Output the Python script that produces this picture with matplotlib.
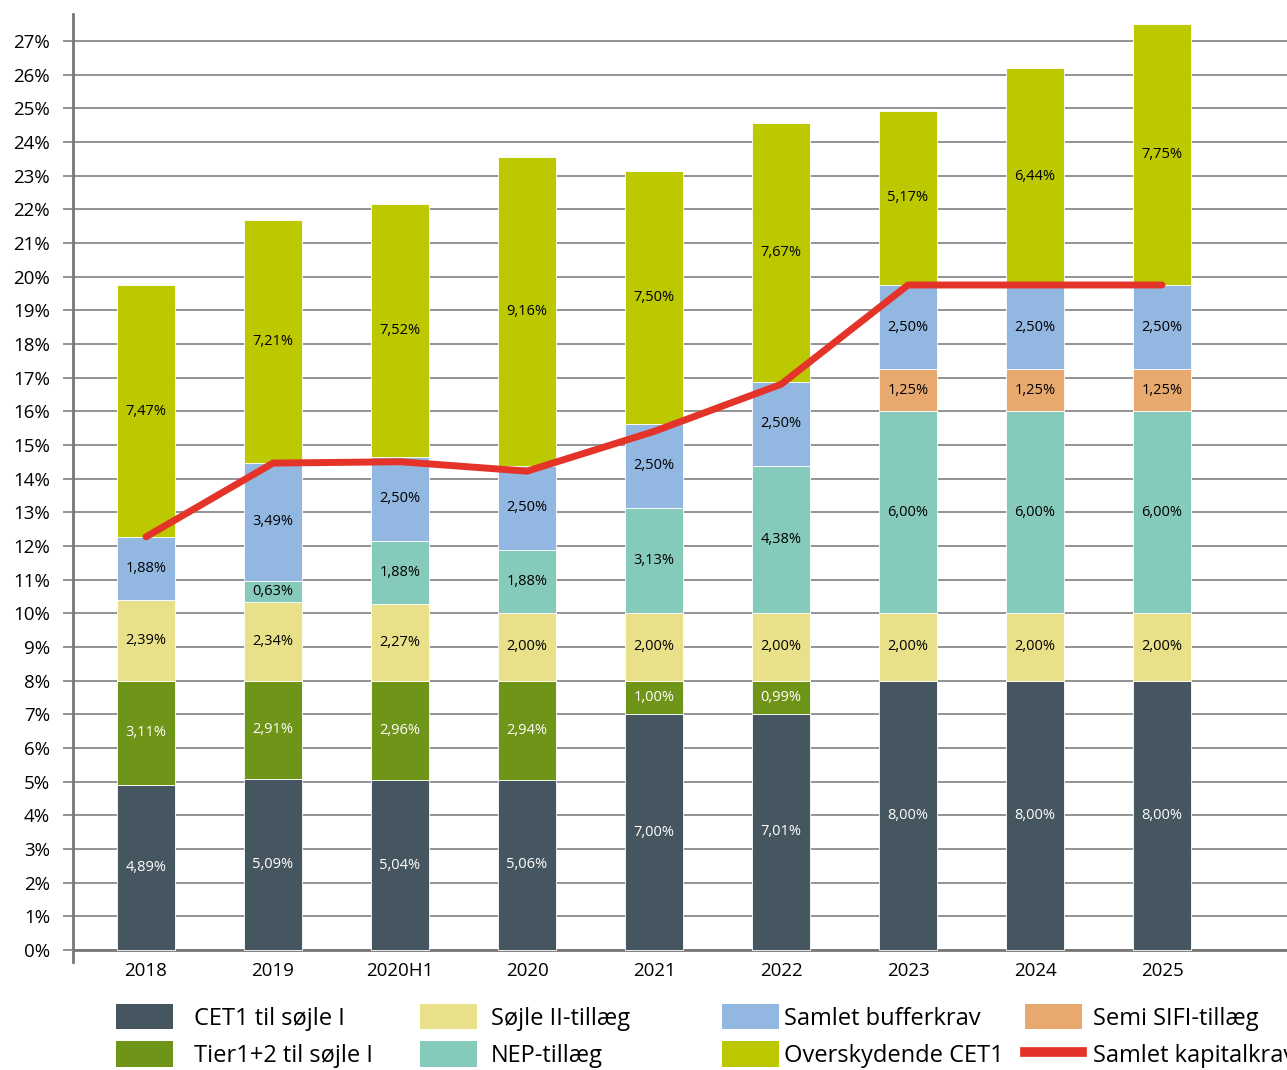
import matplotlib
matplotlib.use("Agg")
import matplotlib.pyplot as plt
from matplotlib.patches import Patch
from matplotlib.lines import Line2D
import numpy as np

plt.rcParams['font.family'] = ['Open Sans', 'DejaVu Sans']

years = ["2018", "2019", "2020H1", "2020", "2021", "2022", "2023", "2024", "2025"]
cet1 = [4.89, 5.09, 5.04, 5.06, 7.00, 7.01, 8.00, 8.00, 8.00]
tier12 = [3.11, 2.91, 2.96, 2.94, 1.00, 0.99, 0.00, 0.00, 0.00]
soejle2 = [2.39, 2.34, 2.27, 2.00, 2.00, 2.00, 2.00, 2.00, 2.00]
nep = [0.00, 0.63, 1.88, 1.88, 3.13, 4.38, 6.00, 6.00, 6.00]
sifi = [0.00, 0.00, 0.00, 0.00, 0.00, 0.00, 1.25, 1.25, 1.25]
buffer = [1.88, 3.49, 2.50, 2.50, 2.50, 2.50, 2.50, 2.50, 2.50]
excess = [7.47, 7.21, 7.52, 9.16, 7.50, 7.67, 5.17, 6.44, 7.75]
total_req = [12.27, 14.46, 14.50, 14.22, 15.40, 16.80, 19.75, 19.75, 19.75]
yticks = list(range(0, 28))

series = [
    ("CET1 til søjle I", cet1, "#455660", "white"),
    ("Tier1+2 til søjle I", tier12, "#6e9418", "white"),
    ("Søjle II-tillæg", soejle2, "#e8e189", "black"),
    ("NEP-tillæg", nep, "#86cabb", "black"),
    ("Semi SIFI-tillæg", sifi, "#e8a96e", "black"),
    ("Samlet bufferkrav", buffer, "#92b8e2", "black"),
    ("Overskydende CET1", excess, "#bcc800", "black"),
]

W, H = 1287, 1070
fig = plt.figure(figsize=(W / 100, H / 100), dpi=100)
x0, x1 = 73, 1360
y_top, y_bot = 14, 962
ax = fig.add_axes([x0 / W, 1 - y_bot / H, (x1 - x0) / W, (y_bot - y_top) / H])

x = np.arange(len(years))
bottom = np.zeros(len(years))
for name, vals, col, tcol in series:
    v = np.array(vals)
    ax.bar(x, v, width=0.45, bottom=bottom, color=col, edgecolor="white",
           linewidth=0.6, zorder=2)
    for xi, b, vi in zip(x, bottom, v):
        if vi > 0:
            ax.text(xi, b + vi / 2, f"{vi:.2f}".replace(".", ",") + "%",
                    ha="center", va="center", fontsize=10.5, color=tcol, zorder=4)
    bottom = bottom + v

ax.plot(x, total_req, color="#e4342a", linewidth=5, solid_capstyle="round",
        solid_joinstyle="miter", zorder=3)

ax.set_xlim(-0.575, (x1 - x0) / 127 - 0.575)
ax.set_ylim(-0.36, 27.8)
ax.set_yticks(yticks)
ax.set_yticklabels([f"{t}%" for t in yticks])
ax.set_xticks(x)
ax.set_xticklabels(years)
ax.grid(axis="y", color="#8a8a8a", linewidth=1.3, zorder=0)
ax.set_axisbelow(True)
for s in ["top", "right", "bottom"]:
    ax.spines[s].set_visible(False)
ax.spines["left"].set_color("#777777")
ax.spines["left"].set_linewidth(2)
ax.axhline(0, color="#777777", linewidth=2, zorder=1)
ax.tick_params(axis="y", length=7.5, width=1.3, color="#8a8a8a", pad=9,
               labelsize=13.5)
ax.tick_params(axis="x", length=0, pad=0, labelsize=13.5)

fs = 17
def add_legend(items, xpix, textpad):
    handles = []
    labels = []
    for name, kind, col in items:
        if kind == "patch":
            handles.append(Patch(facecolor=col, edgecolor="none"))
        else:
            handles.append(Line2D([0], [0], color=col, linewidth=7))
        labels.append(name)
    lg = fig.legend(handles, labels, loc="center left",
                    bbox_to_anchor=(xpix / W, 1 - 1036 / H), frameon=False,
                    fontsize=fs, handlelength=2.4, handleheight=1.27,
                    handletextpad=textpad, labelspacing=0.45, borderpad=0,
                    borderaxespad=0)
    return lg

add_legend([("CET1 til søjle I", "patch", "#455660"),
            ("Tier1+2 til søjle I", "patch", "#6e9418")], 116, 0.89)
add_legend([("Søjle II-tillæg", "patch", "#e8e189"),
            ("NEP-tillæg", "patch", "#86cabb")], 420, 0.59)
add_legend([("Samlet bufferkrav", "patch", "#92b8e2"),
            ("Overskydende CET1", "patch", "#bcc800")], 722, 0.21)
add_legend([("Semi SIFI-tillæg", "patch", "#e8a96e"),
            ("Samlet kapitalkrav", "line", "#e4342a")], 1025, 0.47)

fig.savefig("out.png", dpi=100)
